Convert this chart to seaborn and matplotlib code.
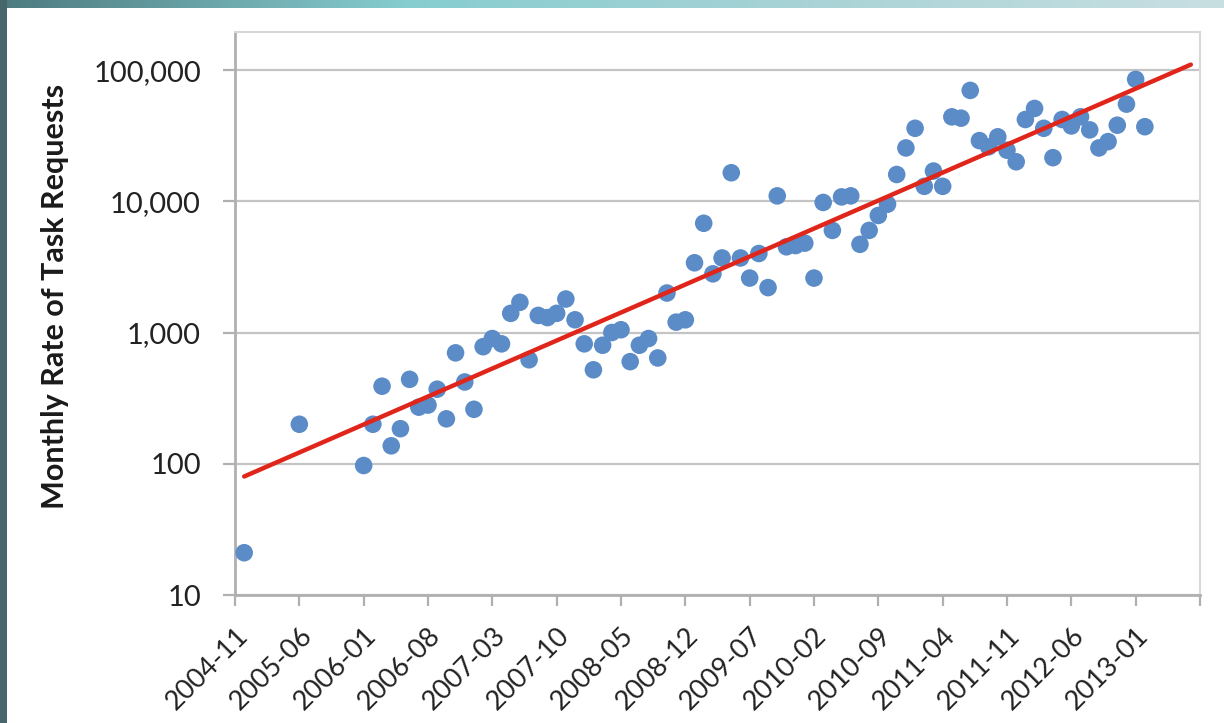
import numpy as np
import pandas as pd
import matplotlib
matplotlib.use("Agg")
import matplotlib.pyplot as plt
import seaborn as sns
from matplotlib.patches import Rectangle
from matplotlib.colors import LinearSegmentedColormap
from matplotlib.ticker import FixedLocator, FuncFormatter, NullLocator

# ---------------- data ----------------
months = (["2004-12", "2005-06"] +
          [str(p) for p in pd.period_range("2006-01", "2013-02", freq="M")])
requests = [
    21, 200,
    97, 200, 390, 137, 185, 440, 270, 280, 370, 220, 700, 420,          # 2006
    260, 780, 900, 820, 1400, 1700, 620, 1350, 1300, 1400, 1800, 1250,  # 2007
    820, 520, 800, 1000, 1050, 600, 800, 900, 640, 2000, 1200, 1250,    # 2008
    3400, 6800, 2800, 3700, 16500, 3700, 2600, 4000, 2200, 11000, 4500, 4600,  # 2009
    4800, 2600, 9800, 6000, 10800, 11000, 4700, 6000, 7800, 9500, 16000, 25500,  # 2010
    36000, 13000, 17000, 13000, 44000, 43000, 70000, 29000, 26000, 31000, 24500, 20000,  # 2011
    42000, 51000, 36000, 21500, 42000, 37500, 44000, 35000, 25500, 28500, 38000, 55000,  # 2012
    85000, 37000,                                                        # 2013
]
trend_months = ["2004-12", "2013-07"]
trend_values = [80, 110000]

tick_labels = ["2004-11", "2005-06", "2006-01", "2006-08", "2007-03", "2007-10",
               "2008-05", "2008-12", "2009-07", "2010-02", "2010-09", "2011-04",
               "2011-11", "2012-06", "2013-01", ""]
y_ticks = [10, 100, 1000, 10000, 100000]

start = pd.Period("2004-11", freq="M")


def month_index(s):
    return (pd.Period(s, freq="M") - start).n


df = pd.DataFrame({"m": [month_index(s) for s in months], "v": requests})
tr = pd.DataFrame({"m": [month_index(s) for s in trend_months], "v": trend_values})

# ---------------- figure ----------------
sns.set_theme(style="white")
plt.rcParams["font.family"] = ["Lato", "DejaVu Sans"]

fig = plt.figure(figsize=(12.24, 7.23), dpi=100)
fig.patch.set_facecolor("white")

# decorative frame (left dark band, top teal gradient)
grad_ax = fig.add_axes([0, 1 - 8 / 723, 1, 8 / 723])
grad = np.linspace(0, 1, 256).reshape(1, -1)
cmap = LinearSegmentedColormap.from_list("tg", ["#4d7b80", "#86cdd0", "#a9d3d6", "#c8dfe2"])
grad_ax.imshow(grad, aspect="auto", cmap=cmap, extent=[0, 1, 0, 1])
grad_ax.set_axis_off()
fig.patches.append(Rectangle((0, 0), 7 / 1224, 1, transform=fig.transFigure,
                             facecolor="#46686c", edgecolor="none", zorder=5))

ax = fig.add_axes([235 / 1224, 1 - 595 / 723, (1200 - 235) / 1224, (595 - 32) / 723])

sns.scatterplot(data=df, x="m", y="v", ax=ax, color="#5b8cc8", s=160,
                edgecolor="none", linewidth=0, zorder=3, legend=False)
sns.lineplot(data=tr, x="m", y="v", ax=ax, color="#e0251b", linewidth=3.2,
             zorder=4, legend=False)

ax.set_yscale("log")
ax.set_ylim(10, 10 ** 5.29)
ax.set_xlim(0, 105)

ax.yaxis.set_major_locator(FixedLocator(y_ticks))
ax.yaxis.set_minor_locator(NullLocator())
ax.yaxis.set_major_formatter(FuncFormatter(lambda v, p: f"{int(round(v)):,}"))
ax.set_xticks(np.arange(0, 106, 7))
ax.set_xticklabels(tick_labels, rotation=45, ha="right", rotation_mode="anchor")

ax.grid(axis="y", color="#c4c4c4", linewidth=1.6)
ax.set_axisbelow(True)
for side in ["left", "bottom"]:
    ax.spines[side].set_color("#b0b0b0")
    ax.spines[side].set_linewidth(2)
for side in ["top", "right"]:
    ax.spines[side].set_color("#d8d8d8")
    ax.spines[side].set_linewidth(1.5)

ax.tick_params(axis="x", which="major", direction="out", length=8, width=1.6,
               color="#b0b0b0", labelsize=19.5, labelcolor="#222222", pad=12, bottom=True)
ax.tick_params(axis="y", which="major", direction="out", length=8.5, width=1.6,
               color="#b0b0b0", labelsize=21, labelcolor="#222222", pad=16, left=True)

ax.set_xlabel("")
ax.set_ylabel("Monthly Rate of Task Requests", fontsize=22, fontweight="bold",
              color="#1a1a1a")
ax.yaxis.set_label_coords(-0.172, 0.53)

fig.savefig("out.png", dpi=100, facecolor=fig.get_facecolor())
